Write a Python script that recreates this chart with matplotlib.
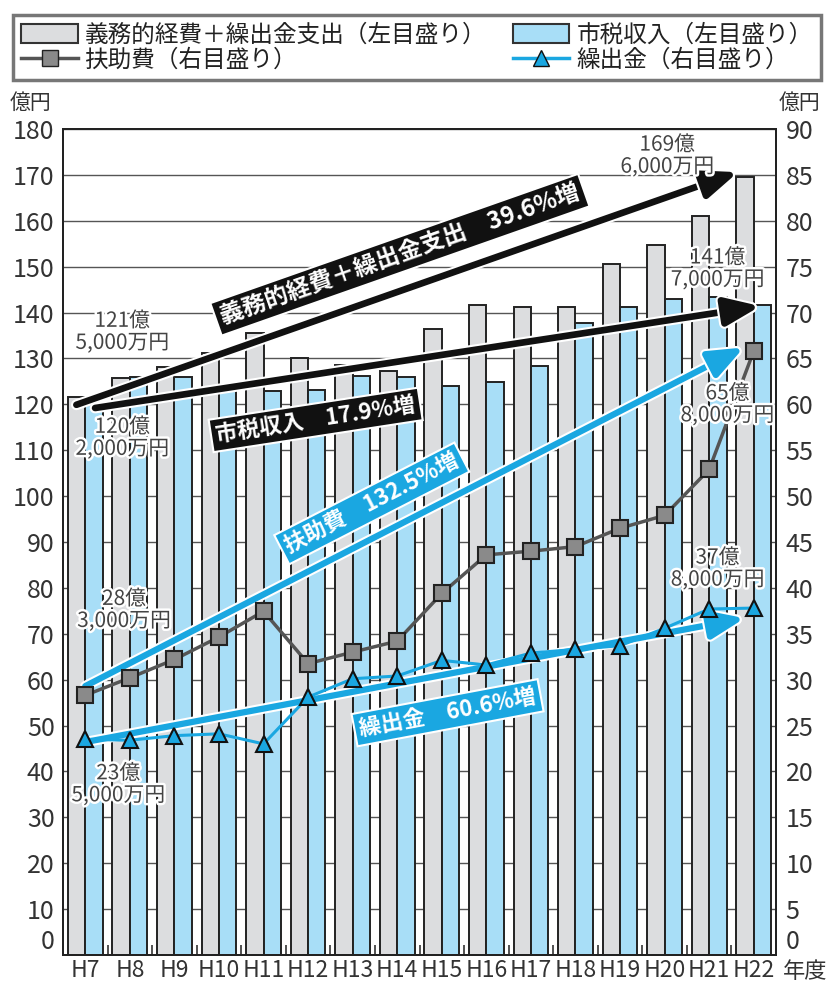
import math
import matplotlib
matplotlib.use('Agg')
import matplotlib.pyplot as plt
import matplotlib.patheffects as pe
from matplotlib.patches import Patch
from matplotlib.lines import Line2D
import numpy as np

plt.rcParams['font.family'] = ['Noto Sans CJK JP', 'DejaVu Sans']

# data (億円)
years = ['H7', 'H8', 'H9', 'H10', 'H11', 'H12', 'H13', 'H14',
         'H15', 'H16', 'H17', 'H18', 'H19', 'H20', 'H21', 'H22']
gimu = [121.5, 125.7, 128.2, 131.2, 135.5, 130.0, 128.6, 127.3,
        136.4, 141.7, 141.3, 141.3, 150.6, 154.8, 161.1, 169.6]
shizei = [120.2, 126.0, 126.0, 122.8, 123.0, 123.1, 126.2, 126.0,
          124.0, 124.9, 128.4, 137.8, 141.2, 142.9, 143.3, 141.7]
fujo = [28.3, 30.2, 32.2, 34.65, 37.45, 31.75, 33.0, 34.2,
        39.4, 43.6, 44.0, 44.5, 46.5, 47.9, 52.9, 65.8]
kuridashi = [23.5, 23.4, 23.9, 24.1, 23.0, 28.1, 30.1, 30.4,
             32.1, 31.6, 32.9, 33.3, 33.7, 35.6, 37.7, 37.8]

legend_labels = ['義務的経費＋繰出金支出（左目盛り）', '市税収入（左目盛り）',
                 '扶助費（右目盛り）', '繰出金（右目盛り）']
first_labels = ['121億\n5,000万円', '120億\n2,000万円', '28億\n3,000万円', '23億\n5,000万円']
last_labels = ['169億\n6,000万円', '141億\n7,000万円', '65億\n8,000万円', '37億\n8,000万円']
growth_labels = ['義務的経費＋繰出金支出　39.6%増', '市税収入　17.9%増',
                 '扶助費　132.5%増', '繰出金　60.6%増']

GRAY = '#dcdddf'
BLUE = '#a8def7'
LINE_BLUE = '#1aa7e1'

fig = plt.figure(figsize=(8.35, 9.85), dpi=100)
ax = fig.add_axes([63 / 835, 1 - 955 / 985, 713 / 835, 826 / 985])
ax2 = ax.twinx()

x = np.arange(len(years))
w = 0.39
ax.bar(x - w / 2, gimu, w, color=GRAY, edgecolor='#222', linewidth=1.4, zorder=2)
ax.bar(x + w / 2, shizei, w, color=BLUE, edgecolor='#222', linewidth=1.4, zorder=2)

ax.set_xlim(-0.5, len(years) - 0.5)
ax.set_ylim(0, 180)
ax.set_yticks(range(0, 181, 10))
ax2.set_ylim(0, 90)
ax2.set_yticks(range(0, 91, 5))
ax.yaxis.grid(True, color='#555', linewidth=1.0)
ax.set_axisbelow(True)

ax.set_xticks(x)
ax.set_xticklabels(years, fontsize=16.5, color='#333')
ax.set_xticks(np.arange(-0.5, len(years), 1), minor=True)
ax.tick_params(axis='x', which='major', length=0, pad=3)
ax.tick_params(axis='x', which='minor', direction='in', length=7, width=1.2, color='#333')
ax.tick_params(axis='y', length=0, pad=6, labelsize=18, labelcolor='#333')
ax2.tick_params(axis='y', length=0, pad=7, labelsize=18, labelcolor='#333')
for a in (ax, ax2):
    for s in a.spines.values():
        s.set_color('#222')
        s.set_linewidth(1.4)
    # the zero label sits just above the baseline
    a.yaxis.get_major_ticks()[0].label1.set_verticalalignment('bottom')
    a.yaxis.get_major_ticks()[0].label2.set_verticalalignment('bottom')

# lines on the right axis
ax2.plot(x, fujo, color='#555', lw=2.5, marker='s', ms=12,
         mfc='#8a8a8a', mec='#222', mew=1.5, zorder=5)
ax2.plot(x, kuridashi, color=LINE_BLUE, lw=2.2, marker='^', ms=12,
         mfc=LINE_BLUE, mec='#111', mew=1.5, zorder=5)

fig.canvas.draw()


def screen_angle(trans, p0, p1):
    a = trans.transform(p0)
    b = trans.transform(p1)
    return math.degrees(math.atan2(b[1] - a[1], b[0] - a[0]))


def arrow(trans, p0, p1, color, lw):
    ax2.annotate('', xy=p1, xytext=p0, xycoords=trans, textcoords=trans,
                 arrowprops=dict(arrowstyle='-|>,head_length=1.05,head_width=0.42',
                                 color=color, lw=lw, mutation_scale=20,
                                 shrinkA=0, shrinkB=0,
                                 path_effects=[pe.Stroke(linewidth=lw + 3, foreground='white'),
                                               pe.Normal()]),
                 zorder=4)


def growth_box(trans, pos, text, angle, fc, size):
    ax2.text(pos[0], pos[1], text, transform=trans, rotation=angle,
             rotation_mode='anchor', ha='center', va='center',
             fontsize=size, fontweight='bold', color='white', zorder=7,
             bbox=dict(boxstyle='square,pad=0.22', fc=fc, ec='white', lw=1.5))


L = ax.transData
R = ax2.transData
n = len(years) - 1

a1 = ((-0.2, gimu[0] - 1.6), (n - 0.35, gimu[-1] + 1.0))
a2 = ((0.22, shizei[0] - 1.0), (n + 0.15, shizei[-1] - 0.3))
a3 = ((0.0, fujo[0] + 1.0), (n - 0.22, fujo[-1] + 0.4))
a4 = ((0.0, kuridashi[0] - 0.3), (n - 0.2, kuridashi[-1] - 1.1))

arrow(L, a1[0], a1[1], '#111', 4.8)
arrow(L, a2[0], a2[1], '#111', 4.8)
arrow(R, a3[0], a3[1], LINE_BLUE, 4.5)
arrow(R, a4[0], a4[1], LINE_BLUE, 4.5)

growth_box(L, (7.06, 152.6), growth_labels[0], screen_angle(L, *a1), '#111', 17)
growth_box(L, (5.17, 116.6), growth_labels[1], screen_angle(L, *a2), '#111', 16)
growth_box(R, (6.43, 49.2), growth_labels[2], screen_angle(R, *a3), LINE_BLUE, 16)
growth_box(R, (8.13, 26.4), growth_labels[3], screen_angle(R, *a4), LINE_BLUE, 16)

# value labels
halo = [pe.withStroke(linewidth=3.5, foreground='white')]
label_pos = [(L, 0.83, 135.8), (L, 0.83, 112.7), (R, 0.87, 37.6), (R, 0.74, 18.6)]
for (tr, lx, ly), t in zip(label_pos, first_labels):
    ax2.text(lx, ly, t, transform=tr, ha='center', va='center', fontsize=15,
             color='#444', linespacing=1.0, path_effects=halo, zorder=8)
label_pos = [(L, 13.06, 174.2), (L, 14.19, 149.6), (R, 14.41, 60.0), (R, 14.19, 42.1)]
for (tr, lx, ly), t in zip(label_pos, last_labels):
    ax2.text(lx, ly, t, transform=tr, ha='center', va='center', fontsize=15,
             color='#444', linespacing=1.0, path_effects=halo, zorder=8)

# unit labels
fig.text(31 / 835, 1 - 103 / 985, '億円', ha='center', va='center', fontsize=15, color='#333')
fig.text(800 / 835, 1 - 103 / 985, '億円', ha='center', va='center', fontsize=15, color='#333')
fig.text(805 / 835, 1 - 972 / 985, '年度', ha='center', va='center', fontsize=16, color='#333')

# legend
handles = [
    Patch(facecolor=GRAY, edgecolor='#333', linewidth=1.5),
    Line2D([], [], color='#555', lw=2.5, marker='s', ms=11, mfc='#8a8a8a', mec='#222'),
    Patch(facecolor=BLUE, edgecolor='#333', linewidth=1.5),
    Line2D([], [], color=LINE_BLUE, lw=2.5, marker='^', ms=11, mfc=LINE_BLUE, mec='#111'),
]
labels = [legend_labels[0], legend_labels[2], legend_labels[1], legend_labels[3]]
leg = fig.legend(handles, labels, ncol=2, loc='upper left',
                 bbox_to_anchor=(13 / 835, 1 - 15 / 985),
                 fontsize=17, fancybox=False, borderpad=0.35, labelspacing=0.12,
                 handlelength=2.4, handleheight=0.85, handletextpad=0.3,
                 columnspacing=1.1, borderaxespad=0)
leg.get_frame().set_edgecolor('#555')
leg.get_frame().set_linewidth(2.5)
for t in leg.get_texts():
    t.set_color('#222')

fig.savefig('out.png', dpi=100)
